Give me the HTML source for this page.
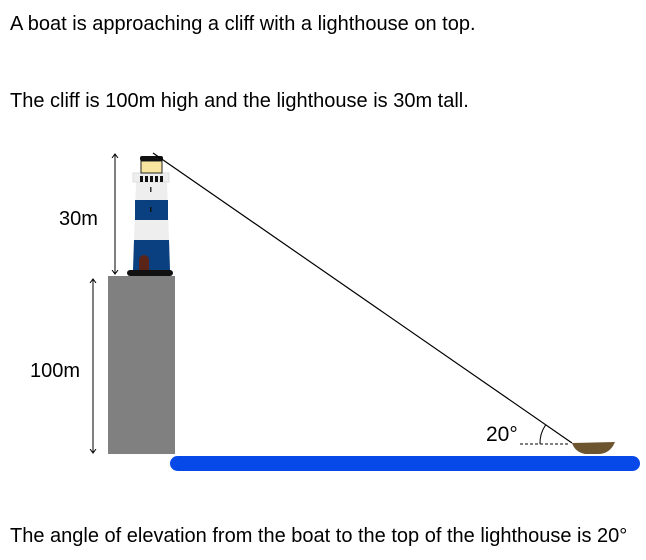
<!DOCTYPE html>
<html><head><style>
body{margin:0;background:#fff;width:646px;height:560px;overflow:hidden}
.t{position:absolute;font-family:"Liberation Sans",sans-serif;font-size:20px;color:#000;white-space:nowrap}
</style></head><body>
<div class="t" style="left:10px;top:13px">A boat is approaching a cliff with a lighthouse on top.</div>
<div class="t" style="left:10px;top:90px">The cliff is 100m high and the lighthouse is 30m tall.</div>
<div class="t" style="left:10px;top:525px">The angle of elevation from the boat to the top of the lighthouse is 20°</div>
<svg width="646" height="560" style="position:absolute;left:0;top:0">
<defs><marker id="a" markerWidth="8" markerHeight="8" refX="4" refY="4" orient="auto-start-reverse"><path d="M0,1 L4,4 L0,7" fill="none" stroke="#000" stroke-width="1"/></marker></defs>
<rect x="108" y="276" width="67" height="178" fill="#808080"/>
<line x1="115" y1="154" x2="115" y2="274" stroke="#000" marker-start="url(#a)" marker-end="url(#a)"/>
<line x1="93" y1="279" x2="93" y2="453" stroke="#000" marker-start="url(#a)" marker-end="url(#a)"/>
<text x="59" y="225" font-family="Liberation Sans,sans-serif" font-size="20">30m</text>
<text x="30" y="377" font-family="Liberation Sans,sans-serif" font-size="20">100m</text>
<text x="486" y="441" font-family="Liberation Sans,sans-serif" font-size="21">20°</text>
<polygon points="136,182 167,182 170,270 133,270" fill="#eeeeee"/>
<polygon points="135,200 168,200 168,220 135,220" fill="#0a3f80"/>
<polygon points="134,240 169,240 170,270 133,270" fill="#0a3f80"/>
<rect x="150" y="187" width="1.5" height="5" fill="#333"/>
<rect x="150" y="207" width="1.5" height="5" fill="#111"/>
<rect x="133" y="173" width="36" height="9" fill="#eee" stroke="#ddd"/>
<rect x="140" y="176" width="3" height="6" fill="#111"/><rect x="145" y="176" width="3" height="6" fill="#111"/><rect x="150" y="176" width="3" height="6" fill="#111"/><rect x="155" y="176" width="3" height="6" fill="#111"/><rect x="160" y="176" width="3" height="6" fill="#111"/>
<rect x="141" y="161" width="21" height="12" fill="#f8e6a0" stroke="#222"/>
<rect x="140" y="156" width="23" height="5" fill="#111" rx="2"/>
<path d="M139,272 v-12 a5,5 0 0 1 10,0 v12z" fill="#5a2418"/>
<rect x="127" y="270" width="46" height="6" rx="3" fill="#111"/>
<line x1="153" y1="153" x2="572" y2="443" stroke="#000" stroke-width="1.2"/>
<line x1="520" y1="444" x2="570" y2="444" stroke="#000" stroke-dasharray="3,2"/>
<path d="M540,444 A32,32 0 0 1 545.7,424.8" fill="none" stroke="#000"/>
<path d="M572,443 L615,442 Q610,454 598,454 L585,454 Q575,452 572,443z" fill="#6d5530"/>
<rect x="170" y="456" width="470" height="15" rx="7.5" fill="#0748e8"/>
</svg>
</body></html>
